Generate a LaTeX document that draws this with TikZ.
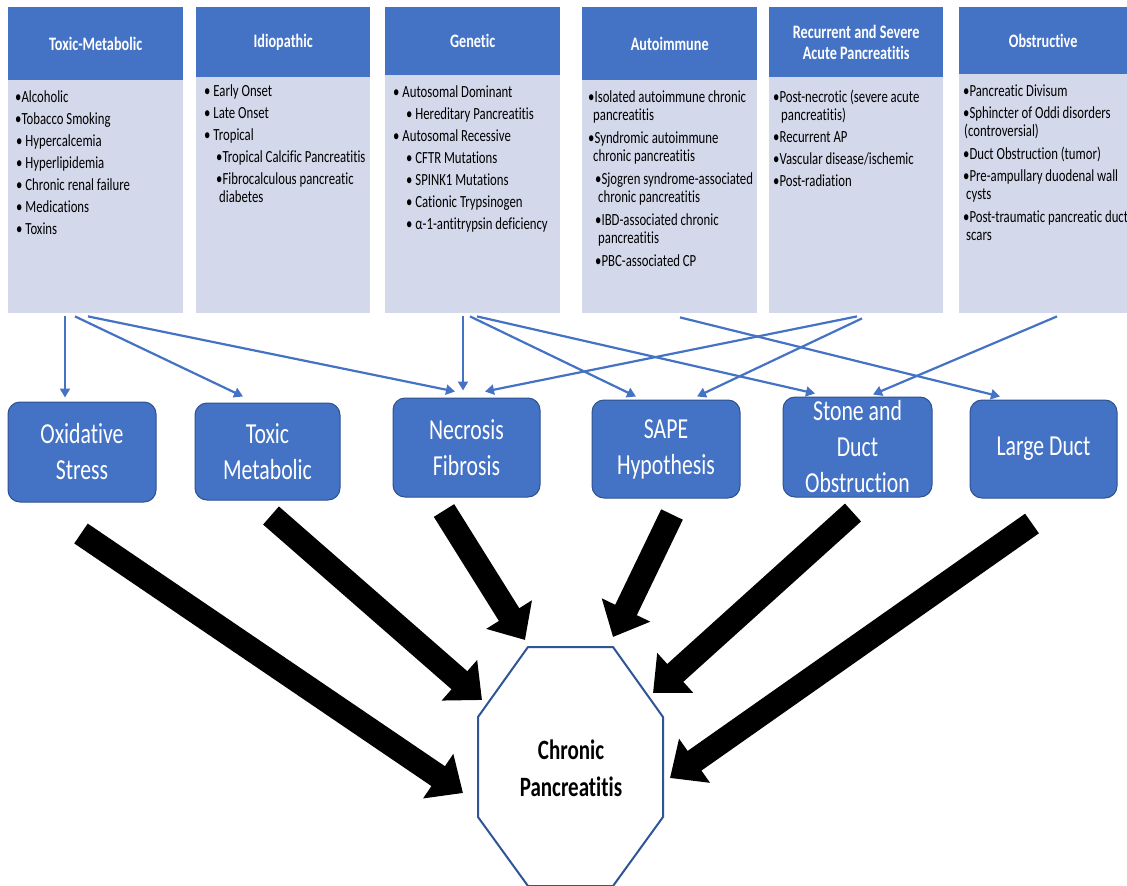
\documentclass[tikz,border=0pt]{standalone}
\usepackage{fontspec}
\setmainfont{Carlito}[FakeStretch=0.75, Ligatures=NoCommon]
\usetikzlibrary{arrows.meta,calc}
\definecolor{hdr}{HTML}{4472C4}
\definecolor{lav}{HTML}{D3D8EA}
\definecolor{bord}{HTML}{2F528F}
\definecolor{octb}{HTML}{2F5597}
\tikzset{
  hbox/.style={fill=hdr, draw=none, anchor=north west, inner sep=0pt, text=white,
    font=\fontsize{19}{21}\selectfont\bfseries, align=center},
  bbox/.style={fill=lav, draw=none, anchor=north west, inner sep=0pt},
  btxt/.style={anchor=north west, inner sep=0pt, align=left, font=\fontsize{17}{18}\selectfont},
  mech/.style={fill=hdr, draw=bord, line width=1pt, rounded corners=12pt, text=white,
    font=\fontsize{29}{36}\selectfont, align=center, inner sep=0pt},
  cause/.style={draw=hdr, line width=2.2pt, -{Triangle[length=9pt,width=10pt]}},
  bigarrow/.style={draw=black, line width=24pt, -{Triangle[length=30pt,width=52pt]}}
}
\newcommand{\fl}{\rule{0pt}{13pt}}
\newcommand{\dn}[1]{\raisebox{-3pt}{#1}}
\begin{document}
\begin{tikzpicture}[x=1pt,y=-1pt]
\useasboundingbox (0,0) rectangle (1127,886);
\fill[white] (0,0) rectangle (1127,886);

% ---- top category boxes ----
\node[hbox, minimum width=175pt, minimum height=73pt] (h1) at (8,7) {Toxic-Metabolic};
\node[bbox, minimum width=175pt, minimum height=233pt] (b1) at (8,80) {};
\node[hbox, minimum width=174pt, minimum height=70pt] (h2) at (196,7) {Idiopathic};
\node[bbox, minimum width=174pt, minimum height=236pt] (b2) at (196,77) {};
\node[hbox, minimum width=175pt, minimum height=68pt] (h3) at (385,7) {Genetic};
\node[bbox, minimum width=175pt, minimum height=238pt] (b3) at (385,75) {};
\node[hbox, minimum width=175pt, minimum height=73pt] (h4) at (582,7) {Autoimmune};
\node[bbox, minimum width=175pt, minimum height=233pt] (b4) at (582,80) {};
\node[hbox, minimum width=174pt, minimum height=70pt] (h5) at (769,7) {Recurrent and Severe\\Acute Pancreatitis};
\node[bbox, minimum width=174pt, minimum height=236pt] (b5) at (769,77) {};
\node[hbox, minimum width=168pt, minimum height=67pt] (h6) at (959,7) {Obstructive};
\node[bbox, minimum width=168pt, minimum height=239pt] (b6) at (959,74) {};

% ---- list texts ----
\node[btxt] (t1) at (15,89) {\fl•Alcoholic\\[4pt]
•Tobacco Smoking\\[4pt]
\hspace*{1pt}• Hypercalcemia\\[4pt]
\hspace*{1pt}• Hyperlipidemia\\[4pt]
\hspace*{1pt}• Chronic renal failure\\[4pt]
\hspace*{1pt}• Medications\\[4pt]
\hspace*{1pt}• Toxins};

\node[btxt] (t2) at (204,83) {\fl• Early Onset\\[4pt]
• Late Onset\\[4pt]
• Tropical\\[4pt]
\hspace*{12pt}•Tropical Calcific Pancreatitis\\[4pt]
\hspace*{12pt}•Fibrocalculous pancreatic\\
\hspace*{15pt}diabetes};

\node[btxt] (t3) at (393,84) {\fl• Autosomal Dominant\\[4pt]
\hspace*{13pt}• Hereditary Pancreatitis\\[4pt]
• Autosomal Recessive\\[4pt]
\hspace*{13pt}• CFTR Mutations\\[4pt]
\hspace*{13pt}• SPINK1 Mutations\\[4pt]
\hspace*{13pt}• Cationic Trypsinogen\\[4pt]
\hspace*{13pt}• α-1-antitrypsin deficiency};

\node[btxt] (t4) at (588,89) {\fl•Isolated autoimmune chronic\\
\hspace*{5pt}pancreatitis\\[5pt]
•Syndromic autoimmune\\
\hspace*{5pt}chronic pancreatitis\\[5pt]
\hspace*{7pt}•Sjogren syndrome-associated\\
\hspace*{10pt}chronic pancreatitis\\[5pt]
\hspace*{7pt}•IBD-associated chronic\\
\hspace*{10pt}pancreatitis\\[5pt]
\hspace*{7pt}•PBC-associated CP};

\node[btxt] (t5) at (773,89) {\fl•Post-necrotic (severe acute\\
\hspace*{8pt}pancreatitis)\\[4pt]
•Recurrent AP\\[4pt]
•Vascular disease/ischemic\\[4pt]
•Post-radiation};

\node[btxt] (t6) at (963,83) {\fl•Pancreatic Divisum\\[4pt]
•Sphincter of Oddi disorders\\
\hspace*{1pt}(controversial)\\[5pt]
•Duct Obstruction (tumor)\\[4pt]
•Pre-ampullary duodenal wall\\
\hspace*{3pt}cysts\\[5pt]
•Post-traumatic pancreatic duct\\
\hspace*{3pt}scars};

% ---- mechanism boxes ----
\node[mech, minimum width=148pt, minimum height=100pt] (ox) at (82,452) {\dn{Oxidative}\\\dn{Stress}};
\node[mech, minimum width=145pt, minimum height=97pt] (tm) at (267.5,451.5) {\dn{Toxic}\\\dn{Metabolic}};
\node[mech, minimum width=147pt, minimum height=99pt] (nf) at (466.5,447.5) {\dn{Necrosis}\\\dn{Fibrosis}};
\node[mech, minimum width=148pt, minimum height=98pt] (sa) at (666,449) {\dn{SAPE}\\\dn{Hypothesis}};
\node[mech, minimum width=149pt, minimum height=100pt] (sd) at (857.5,447) {Stone and\\Duct\\Obstruction};
\node[mech, minimum width=147pt, minimum height=98pt] (ld) at (1043.5,449) {\raisebox{-5pt}{Large Duct}};

% ---- thin cause arrows ----
\draw[cause] ($(b1.south west)+(57,3)$) -- ($(ox.north)+(-17,-4)$);
\draw[cause] ($(b1.south west)+(67,3)$) -- ($(tm.north)+(-24.5,-6)$);
\draw[cause] ($(b1.south west)+(80,3)$) -- ($(nf.north)+(-11.5,-6)$);
\draw[cause] ($(b3.south west)+(78,3)$) -- ($(nf.north)+(-3.5,-7)$);
\draw[cause] ($(b3.south west)+(85,3)$) -- ($(sa.north)+(-30,-3)$);
\draw[cause] ($(b3.south west)+(92,3)$) -- ($(sd.north)+(-42.5,-3)$);
\draw[cause] ($(b4.south west)+(98,4)$) -- ($(ld.north)+(-43.5,-3)$);
\draw[cause] ($(b5.south west)+(88,3)$) -- ($(nf.north)+(18.5,-6)$);
\draw[cause] ($(b5.south west)+(93,5)$) -- ($(sa.north)+(31,-3)$);
\draw[cause] ($(b6.south west)+(98,3)$) -- ($(sd.north)+(15.5,-2)$);

% ---- chronic pancreatitis octagon ----
\draw[octb, line width=2pt] (528,647) -- (613,647) -- (663,717) -- (663,817) -- (613,886)
  -- (528,886) -- (478,817) -- (478,717) -- cycle;
\node[font=\fontsize{28}{37}\selectfont\bfseries, align=center, inner sep=0pt] (cp) at (571,768) {Chronic\\Pancreatitis};

\coordinate (pA) at (463,793);
\coordinate (pB) at (482,700);
\coordinate (pC) at (525,640);
\coordinate (pD) at (613,637);
\coordinate (pE) at (653,693);
\coordinate (pF) at (670,778);

% ---- thick arrows ----
\draw[bigarrow] ($(ox.south)+(-1,31)$) -- (pA);
\draw[bigarrow] ($(tm.south)+(3.5,15)$) -- (pB);
\draw[bigarrow] ($(nf.south)+(-22.5,13)$) -- (pC);
\draw[bigarrow] ($(sa.south)+(6,16)$) -- (pD);
\draw[bigarrow] ($(sd.south)+(-4.5,15)$) -- (pE);
\draw[bigarrow] ($(ld.south)+(-11.5,25)$) -- (pF);
\end{tikzpicture}
\end{document}
